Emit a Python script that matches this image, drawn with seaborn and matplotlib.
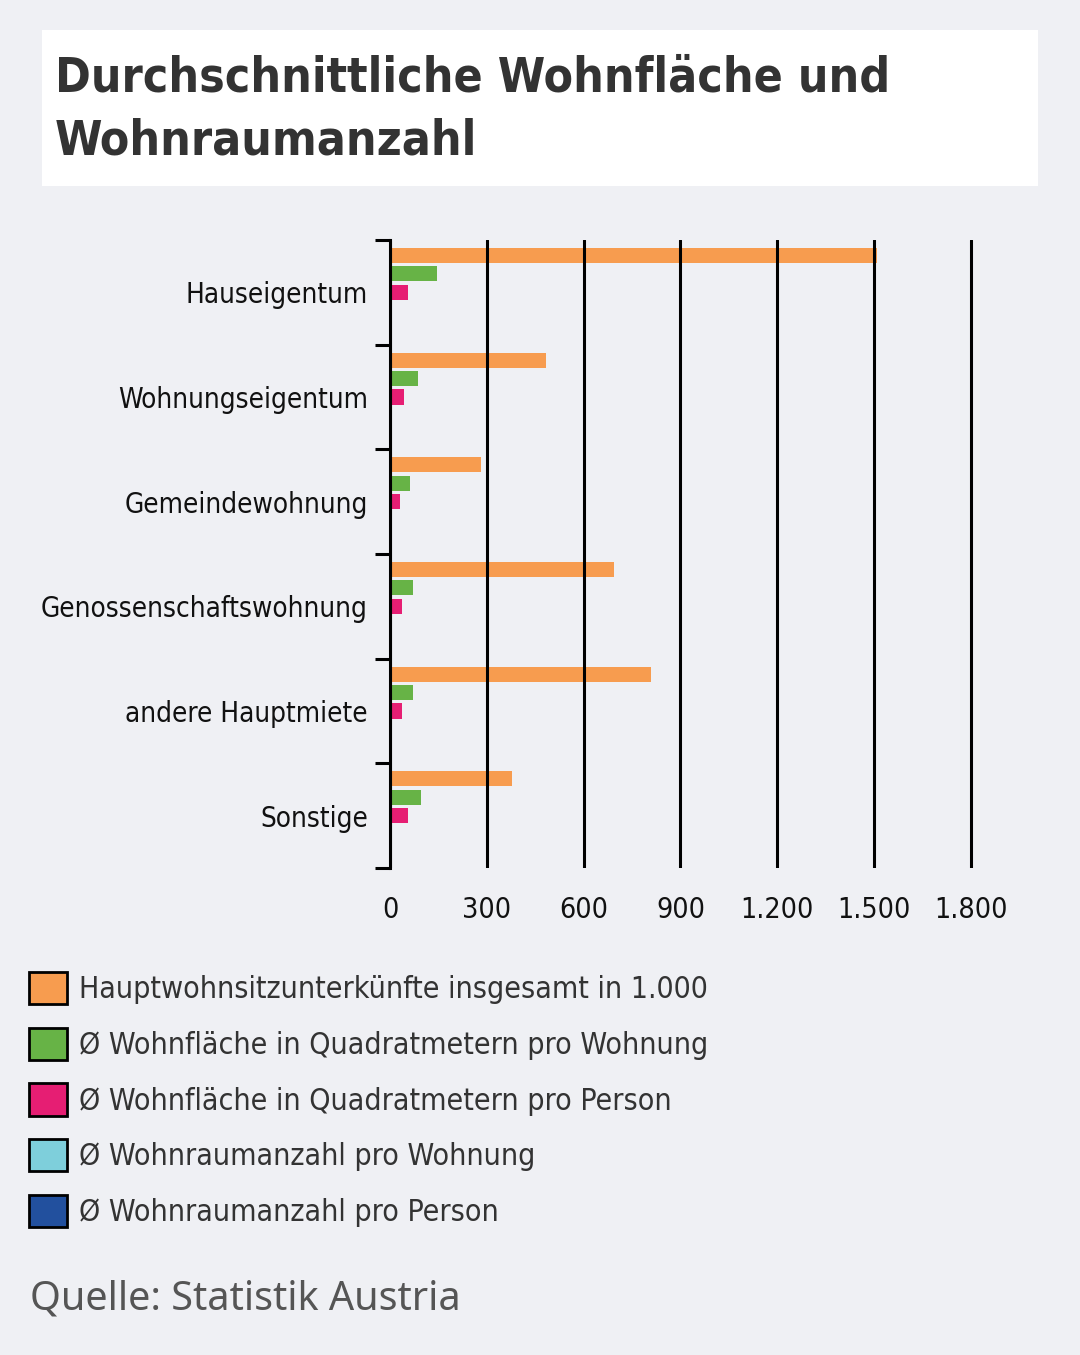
import numpy as np
import pandas as pd
import matplotlib.pyplot as plt
import seaborn as sns
from matplotlib.patches import Patch, Rectangle
from matplotlib.ticker import FixedLocator

# data
kategorien = ["Hauseigentum", "Wohnungseigentum", "Gemeindewohnung",
              "Genossenschaftswohnung", "andere Hauptmiete", "Sonstige"]
unterkuenfte = [1510, 485, 283, 694, 809, 379]
flaeche_wohnung = [146, 87, 61, 70, 70, 97]
flaeche_person = [56, 43, 30, 36, 36, 57]
raeume_wohnung = [4.9, 3.4, 2.8, 3.0, 2.9, 3.9]
raeume_person = [2.0, 1.7, 1.3, 1.5, 1.4, 2.0]

serien = ["Hauptwohnsitzunterkünfte insgesamt in 1.000",
          "Ø Wohnfläche in Quadratmetern pro Wohnung",
          "Ø Wohnfläche in Quadratmetern pro Person",
          "Ø Wohnraumanzahl pro Wohnung",
          "Ø Wohnraumanzahl pro Person"]
farben = ["#F79C4F", "#67B346", "#E61E73", "#7ECFDB", "#22509E"]
x_ticks = [0, 300, 600, 900, 1200, 1500, 1800]
x_labels = ["0", "300", "600", "900", "1.200", "1.500", "1.800"]

werte = [unterkuenfte, flaeche_wohnung, flaeche_person, raeume_wohnung, raeume_person]
df = pd.DataFrame([
    {"kategorie": k, "serie": s, "wert": v}
    for s, vals in zip(serien, werte)
    for k, v in zip(kategorien, vals)
])

BG = "#EFF0F4"

sns.set_theme(style="white")
plt.rcParams["font.family"] = ["DejaVu Sans"]
plt.rcParams["font.stretch"] = "condensed"

fig = plt.figure(figsize=(10.8, 13.55), dpi=100, facecolor=BG)

# title box
fig.patches.append(Rectangle((42 / 1080, 1 - 186 / 1355), 996 / 1080, 156 / 1355,
                             transform=fig.transFigure, facecolor="white",
                             edgecolor="none", zorder=0))
fig.text(55 / 1080, 1 - 55 / 1355, "Durchschnittliche Wohnfläche und\nWohnraumanzahl",
         fontsize=34.5, fontweight="bold", color="#333333", va="top", ha="left",
         linespacing=1.42)

ax = fig.add_axes([390 / 1080, 1 - 868 / 1355, 584 / 1080, 628 / 1355])
ax.set_facecolor(BG)

sns.barplot(data=df, y="kategorie", x="wert", hue="serie", orient="h",
            palette=farben, saturation=1, width=0.88, gap=0.18, linewidth=0,
            legend=False, ax=ax)

ax.set_xlim(0, 1810)
ax.set_ylim(len(kategorien) - 0.5, -0.5)
ax.set_xlabel("")
ax.set_ylabel("")

for side in ["top", "right", "bottom"]:
    ax.spines[side].set_visible(False)
ax.spines["left"].set_color("black")
ax.spines["left"].set_linewidth(2.2)

ax.xaxis.set_major_locator(FixedLocator(x_ticks))
ax.set_xticklabels(x_labels)
ax.tick_params(axis="x", length=0, pad=20, labelsize=20.5, labelcolor="#111111")
ax.tick_params(axis="y", which="major", length=0, pad=16, labelsize=20, labelcolor="#111111")
ax.yaxis.set_minor_locator(FixedLocator(np.arange(-0.5, len(kategorien), 1.0)))
ax.tick_params(axis="y", which="minor", left=True, length=11, width=2.2, color="black")

ax.set_axisbelow(False)
ax.grid(axis="x", color="black", linewidth=2.2)
ax.grid(axis="y", visible=False)

# legend
handles = [Patch(facecolor=c, edgecolor="black", linewidth=2) for c in farben]
fig.legend(handles, serien, loc="upper left", bbox_to_anchor=(2 / 1080, 1 - 945 / 1355),
           frameon=False, fontsize=21.7, handlelength=1.26, handleheight=1.26,
           handletextpad=0.38, labelspacing=0.78, labelcolor="#333333")

fig.text(30 / 1080, 1 - 1300 / 1355, "Quelle: Statistik Austria", fontsize=28.5,
         color="#555555", va="center", ha="left", family=["Noto Sans", "DejaVu Sans"],
         stretch="normal")

fig.savefig("out.png", dpi=100, facecolor=BG)
